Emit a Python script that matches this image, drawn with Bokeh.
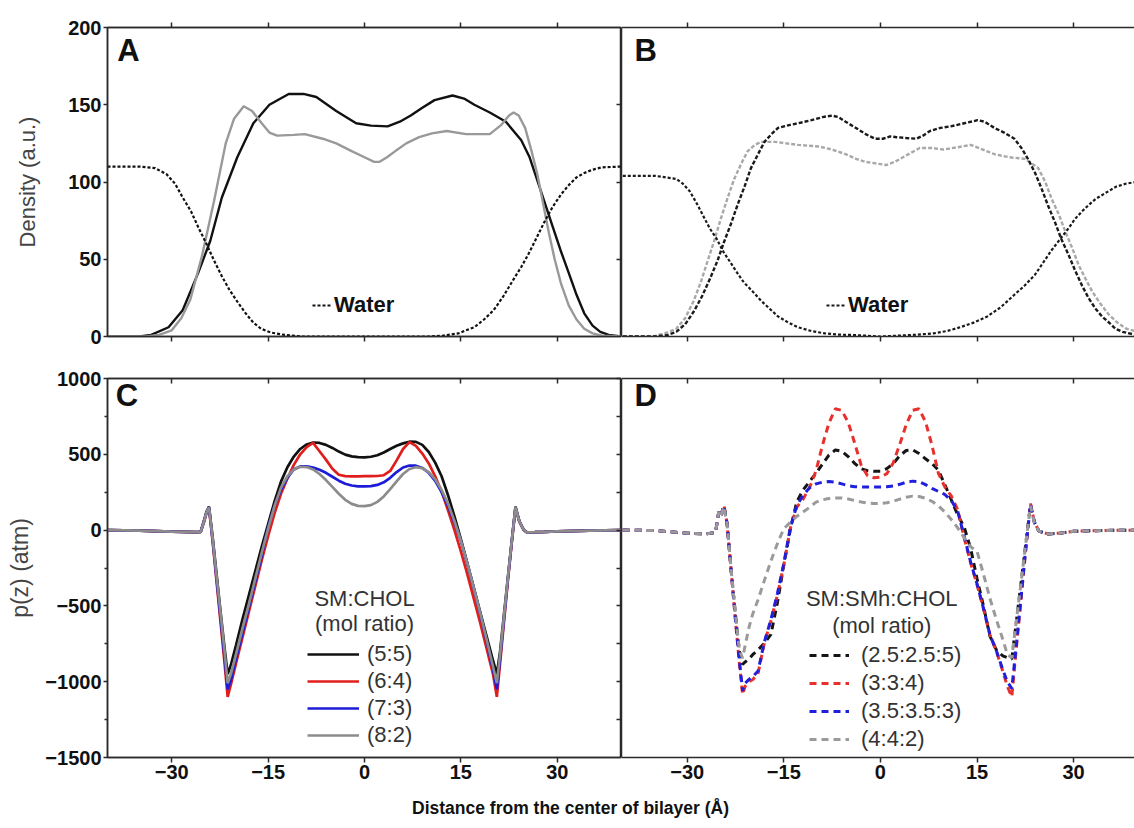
from bokeh.plotting import figure
from bokeh.layouts import gridplot, column
from bokeh.models import LinearAxis, FixedTicker, Label, Legend, LegendItem
from bokeh.embed import file_html
from bokeh.resources import INLINE

# ---------------- data ----------------
X_TICKS = [-30, -15, 0, 15, 30]
DENS_TICKS = [0, 50, 100, 150, 200]
PZ_TICKS = [-1500, -1000, -500, 0, 500, 1000]
PZ_MINOR = [-1250, -750, -250, 250, 750]

# Panel A (density, SM:CHOL)
a_lip1_x = [-40, -35, -33.2, -30.5, -28.3, -25.9, -24, -22.2, -19.8, -17.3, -14.8, -11.8, -9.5, -7.5, -4.4, -1.3, 1, 3.6, 5.5, 7.2, 9, 10.9, 13.7, 15.5, 17.1, 19.5, 22, 24.4, 25.7, 26.9, 28.1, 29.3, 30.5, 31.8, 33, 34.2, 35.5, 36.7, 38, 40]
a_lip1_y = [0, 0, 1, 6, 17, 41, 62, 90, 116, 138, 150, 157, 157, 155, 146, 138, 136.5, 136, 139, 143, 148, 153, 156, 154, 150, 145, 139, 127, 116, 101, 86, 71, 56, 41, 27, 15, 7, 3, 1, 0]
a_lip2_x = [-40, -34, -32, -30, -28.5, -27.1, -25.3, -23.4, -21.6, -20.3, -18.8, -17.5, -16, -14.8, -13.6, -11, -9.3, -6.5, -4.4, -2, 0, 1.5, 2.3, 3.5, 4.8, 6.5, 8.5, 10.5, 12.8, 15.8, 19.5, 21.3, 22.5, 23.2, 24, 25, 26, 26.9, 27.8, 28.7, 29.6, 30.6, 31.8, 33, 34.2, 35.5, 37, 40]
a_lip2_y = [0, 0, 1, 4, 12, 24, 52, 88, 125, 141, 149, 146, 138, 132, 130, 130.5, 131, 128, 125, 120, 116, 113, 113, 116, 120, 125, 129, 131.5, 133, 131, 131, 137, 143, 145, 143, 135, 120, 105, 86, 67, 50, 34, 20, 11, 5, 2, 0.5, 0]
a_wat_x = [-40, -35, -32.6, -30.8, -29.5, -28.3, -27, -25.9, -24.6, -23.4, -22.2, -21, -19.7, -18.5, -17.3, -16.1, -14.5, -12.4, -10, 10, 12.1, 14.6, 15.8, 17.1, 18.6, 20.1, 21.6, 23.2, 24.4, 25.6, 26.8, 28.1, 29.3, 30.6, 31.8, 33, 34.3, 35.5, 37, 40]
a_wat_y = [110, 110, 109, 105, 99, 90, 81, 71, 60, 49, 39, 30, 22, 15, 9, 5, 2.5, 1, 0, 0, 0.5, 2, 4, 6, 11, 17, 26, 37, 45, 54, 64, 75, 84, 92, 98, 103, 106, 108, 109.5, 110]

# Panel B (density, SM:SMh:CHOL)
b_lip1_x = [-40, -35, -33, -31.7, -30.3, -29, -27.7, -26.4, -25.3, -24.3, -23.2, -22.2, -21.1, -20.1, -19, -18, -16.9, -15.9, -14, -12.8, -10.7, -9, -7.5, -6.5, -5.4, -3.8, -2.3, -0.8, 0.4, 1.5, 2.5, 4, 5.6, 6.6, 7.7, 9.3, 10.9, 13, 15.1, 16.2, 17.7, 19.2, 20.8, 21.9, 22.9, 24, 25, 26, 27.1, 28.1, 29.2, 30.2, 31.3, 32.3, 33.4, 34.4, 35.5, 36.5, 37.6, 39.7, 40]
b_lip1_y = [0, 0, 1, 3, 8, 16, 26, 38, 49, 61, 73, 85, 97, 109, 118, 126, 131, 135, 137, 138, 140, 142, 143, 142, 139, 135, 131, 128, 128, 129.5, 129, 128.5, 128, 130, 133, 135, 136, 138, 140, 139, 135, 132, 128, 122, 115, 106, 96, 85, 74, 63, 53, 43, 33, 25, 18, 13, 9, 5, 3, 1, 1]
b_lip2_x = [-40, -35.3, -33.5, -31.7, -30.3, -29, -27.9, -26.9, -25.8, -24.8, -23.7, -22.7, -21.6, -20.6, -19.5, -18.5, -16.4, -14.6, -12.8, -9.6, -7.5, -5.4, -3.8, -2.3, 0.9, 2.2, 3.5, 4.8, 6.1, 8, 9.8, 12, 14, 15.9, 17.7, 20, 22.4, 23.5, 24.5, 25.6, 26.6, 27.7, 28.7, 29.8, 30.8, 31.9, 32.9, 34.2, 35.5, 36.8, 38.2, 40]
b_lip2_y = [0, 0, 2, 5, 12, 23, 35, 48, 62, 76, 90, 102, 112, 120, 124, 126, 126, 125, 124, 123, 121, 118, 115, 113, 111, 113, 116, 119, 122, 122, 121, 122.5, 124, 121, 118, 116, 115, 112, 109, 100, 89, 79, 68, 57, 46, 37, 29, 21, 14, 9, 5, 3]
b_wat_x = [-40, -35, -31.7, -30.7, -29.6, -28.5, -27.5, -26.5, -25.4, -24.4, -23.3, -22.2, -21.2, -19.8, -18.5, -17.2, -15.9, -14.3, -12.8, -10.7, -8.6, -6.5, -4.4, 0, 5.1, 8.2, 10.3, 12.4, 14.5, 16.6, 18.7, 20.8, 22.4, 24, 25.3, 26.6, 27.9, 29.2, 30.2, 31.3, 32.3, 33.4, 35, 36.6, 38.2, 39.7, 40]
b_wat_y = [104, 104, 102, 99, 94, 86, 78, 70, 63, 55, 48, 41, 35, 29, 23, 18, 13, 9, 6, 3.5, 2, 1.2, 1, 0, 1, 2, 3.5, 6, 9, 13, 19, 27, 33, 40, 48, 56, 63, 70, 76, 81, 85, 89, 93, 97, 99, 100, 100]

# Panel C (lateral pressure, SM:CHOL)
c_x = [-40, -35, -30, -28, -26.5, -25.5, -25, -24.6, -24.2, -23.6, -23, -22.4, -21.8, -21.3, -20.8, -20, -19, -18, -17, -16,
       -15, -14, -13, -12, -11, -10, -9, -8, -7, -6, -5, -4, -3, -2, -1, 0, 1, 2, 3, 4,
       5, 6, 7, 8, 9, 10, 11, 12, 13, 14, 15, 16, 17, 18, 19, 20, 20.6, 21.1, 21.7, 22.3,
       22.9, 23.5, 24.1, 24.8, 25.3, 26.5, 28, 30, 35, 40]
c_55 = [0, -3, -10, -12, -14, -12, 60, 120, 155, -60, -300, -540, -770, -950, -890, -760, -590, -430, -270, -110,
        40, 190, 320, 415, 485, 535, 565, 578, 575, 562, 542, 518, 498, 486, 481, 480, 484, 494, 512, 535,
        556, 572, 583, 582, 562, 515, 445, 355, 230, 90, -60, -220, -380, -540, -700, -860, -950, -800, -560, -320,
        -80, 155, 60, 0, -15, -14, -12, -8, -3, 0]
c_64 = [0, -3, -10, -12, -14, -12, 50, 110, 145, -90, -350, -610, -870, -1100, -1020, -880, -710, -540, -370, -200,
        -40, 110, 240, 340, 430, 500, 548, 575, 520, 465, 405, 365, 356, 355, 355, 356, 356, 357, 362, 390,
        460, 535, 580, 555, 505, 440, 355, 255, 130, 0, -140, -290, -450, -610, -780, -950, -1100, -880, -610, -340,
        -90, 145, 55, 0, -15, -14, -12, -8, -3, 0]
c_73 = [0, -3, -10, -12, -14, -12, 55, 115, 150, -80, -330, -580, -830, -1050, -990, -850, -680, -510, -340, -170,
        20, 160, 265, 345, 400, 420, 420, 412, 398, 378, 352, 326, 306, 294, 289, 288, 290, 298, 315, 345,
        383, 413, 426, 425, 410, 378, 325, 250, 160, 50, -70, -220, -380, -550, -730, -920, -1050, -850, -590, -330,
        -85, 150, 58, 0, -15, -14, -12, -8, -3, 0]
c_82 = [0, -3, -10, -12, -14, -12, 55, 115, 150, -70, -310, -550, -790, -1010, -950, -820, -650, -490, -320, -150,
        10, 160, 280, 355, 400, 418, 416, 400, 370, 330, 285, 240, 200, 173, 160, 158, 165, 186, 222, 270,
        322, 370, 403, 415, 408, 382, 335, 265, 175, 60, -70, -220, -380, -545, -720, -900, -1010, -820, -570, -320,
        -80, 150, 58, 0, -15, -14, -12, -8, -3, 0]
c_labels = ["(5:5)", "(6:4)", "(7:3)", "(8:2)"]

# Panel D (lateral pressure, SM:SMh:CHOL)
d_x = [-40, -35, -30, -27, -25.6, -25.1, -24.8, -24.3, -23.8, -23.2, -22.5, -21.9, -21.4, -21, -20.4, -19.8, -19, -18, -17, -16,
       -15, -14, -13, -12, -11, -10, -9, -8, -7, -6, -5, -4, -3, -2, -1, 0, 1, 2, 3, 4,
       5, 6, 7, 8, 9, 10, 11, 12, 13, 14, 15, 16, 17, 18, 19, 19.7, 20.4, 21.1, 21.8, 22.5,
       23.3, 23.9, 24.6, 26, 28, 30, 35, 40]
d_255 = [0, -3, -20, -25, -15, 120, 90, 160, 40, -250, -560, -800, -885, -870, -850, -820, -790, -745, -688, -480,
         -230, 0, 185, 265, 320, 375, 435, 495, 528, 520, 485, 440, 405, 392, 388, 389, 405, 440, 490, 525,
         530, 505, 470, 440, 395, 300, 200, 100, 20, -120, -320, -500, -700, -790, -830, -842, -850, -605, -360, -115,
         165, 50, -7, -25, -20, -8, -2, 0]
d_334 = [0, -3, -20, -25, -15, 120, 90, 165, 40, -260, -600, -880, -1085, -1030, -1000, -985, -945, -740, -600, -430,
         -230, 10, 150, 205, 280, 390, 560, 705, 800, 790, 710, 575, 430, 358, 345, 350, 372, 445, 565, 695,
         790, 800, 715, 560, 375, 285, 225, 135, -50, -215, -360, -520, -690, -800, -930, -1030, -1100, -780, -470, -160,
         175, 55, -7, -25, -20, -8, -2, 0]
d_353 = [0, -3, -20, -25, -15, 120, 90, 160, 40, -255, -590, -860, -1060, -1010, -985, -965, -930, -735, -590, -420,
         -220, 15, 160, 230, 280, 305, 316, 320, 317, 305, 293, 286, 284, 284, 284, 284, 286, 291, 302, 316,
         323, 320, 300, 275, 255, 235, 195, 125, -40, -210, -355, -515, -690, -795, -920, -1000, -1045, -760, -460, -150,
         170, 55, -7, -25, -20, -8, -2, 0]
d_442 = [0, -3, -20, -25, -15, 120, 90, 155, 40, -250, -560, -790, -845, -760, -640, -550, -460, -330, -204, -90,
         10, 50, 90, 120, 150, 185, 200, 208, 212, 212, 205, 195, 186, 179, 176, 176, 180, 190, 204, 217,
         224, 222, 210, 190, 160, 120, 70, 15, -50, -110, -140, -290, -450, -590, -720, -820, -842, -600, -360, -110,
         160, 50, -7, -25, -20, -8, -2, 0]
d_labels = ["(2.5:2.5:5)", "(3:3:4)", "(3.5:3.5:3)", "(4:4:2)"]

# ---------------- style ----------------
AXC = "#2a2a2a"
TICK_FONT = "Liberation Sans"
TEXT_FONT = "Liberation Sans"
LINE_COLORS = ["#111111", "#e01e1e", "#1c1cd8", "#8c8c8c"]
DASH_COLORS = ["#151515", "#e8302c", "#2020dc", "#9a9a9a"]

L_FRAME_W, R_FRAME_W = 514, 513
TOP_FRAME_H, BOT_FRAME_H = 309, 379


def make_fig(xr, yr, fw, fh, bl, br, bt, bb, outline=True):
    p = figure(x_range=xr, y_range=yr, frame_width=fw, frame_height=fh,
               min_border_left=bl, min_border_right=br, min_border_top=bt, min_border_bottom=bb,
               x_axis_type=None, y_axis_type=None, toolbar_location=None, output_backend="svg")
    p.outline_line_color = AXC if outline else None
    p.outline_line_width = 1.5
    p.background_fill_color = "white"
    p.border_fill_color = "white"
    return p


def add_axis(p, side, ticks, minor=(), t_in=0, t_out=0, m_in=0, m_out=0, labels=False):
    ax = LinearAxis(ticker=FixedTicker(ticks=list(ticks), minor_ticks=list(minor)))
    ax.axis_line_color = AXC
    ax.axis_line_width = 1.5
    ax.major_tick_line_color = AXC
    ax.major_tick_line_width = 1.5
    ax.major_tick_in = t_in
    ax.major_tick_out = t_out
    ax.minor_tick_line_color = AXC if minor else None
    ax.minor_tick_line_width = 1.5
    ax.minor_tick_in = m_in
    ax.minor_tick_out = m_out
    if labels:
        ax.major_label_text_font = TICK_FONT
        ax.major_label_text_font_style = "bold"
        ax.major_label_text_font_size = "20px"
        ax.major_label_text_color = "#111111"
        ax.major_label_standoff = 2
    else:
        ax.major_label_text_font_size = "0px"
        ax.major_label_text_color = None
        ax.major_label_standoff = 0
    p.add_layout(ax, side)
    return ax


def panel_letter(p, x, y, txt):
    p.add_layout(Label(x=x, y=y, text=txt, text_font=TEXT_FONT, text_font_style="bold",
                       text_font_size="31px", text_color="#111111",
                       text_align="left", text_baseline="alphabetic"))


def water_legend(p, r, xloc):
    leg = Legend(items=[LegendItem(label="Water", renderers=[r])], location=(xloc, 18),
                 border_line_color=None, background_fill_alpha=0, padding=0, margin=0,
                 glyph_width=20, glyph_height=26, label_height=26, label_standoff=2,
                 label_text_font=TEXT_FONT, label_text_font_style="bold",
                 label_text_font_size="22px", label_text_color="#111111")
    p.add_layout(leg)


# ---------------- Panel A ----------------
pa = make_fig((-40, 40), (0, 200), L_FRAME_W, TOP_FRAME_H, 107, 0, 27, 21)
ya = add_axis(pa, "left", DENS_TICKS, t_out=4, labels=True)
ya.axis_label = "Density (a.u.)"
ya.axis_label_text_font = TEXT_FONT
ya.axis_label_text_font_style = "normal"
ya.axis_label_text_font_size = "22px"
ya.axis_label_text_color = "#444444"
ya.axis_label_standoff = 25
add_axis(pa, "below", X_TICKS, t_out=5)
add_axis(pa, "above", X_TICKS, t_out=5)
add_axis(pa, "right", [50, 100, 150], t_in=5)
pa.line(a_lip1_x, a_lip1_y, line_color="#111111", line_width=2.4)
pa.line(a_lip2_x, a_lip2_y, line_color="#999999", line_width=2.4)
rwa = pa.line(a_wat_x, a_wat_y, line_color="#111111", line_width=2.2, line_dash="3 2")
water_legend(pa, rwa, 205)
panel_letter(pa, -38.5, 185, "A")

# ---------------- Panel B ----------------
XR_R = (-40.2, 39.45)
pb = make_fig(XR_R, (0, 200), R_FRAME_W, TOP_FRAME_H, 0, 0, 27, 21, outline=False)
add_axis(pb, "left", [])
add_axis(pb, "below", X_TICKS, t_out=5)
add_axis(pb, "above", X_TICKS, t_out=5)
pb.line(b_lip2_x, b_lip2_y, line_color="#a8a8a8", line_width=2.4, line_dash="4 2")
pb.line(b_lip1_x, b_lip1_y, line_color="#1a1a1a", line_width=2.4, line_dash="4 2")
rwb = pb.line(b_wat_x, b_wat_y, line_color="#1a1a1a", line_width=2.2, line_dash="3 2")
water_legend(pb, rwb, 205)
panel_letter(pb, -38.2, 185, "B")

# ---------------- Panel C ----------------
pc = make_fig((-40, 40), (-1500, 1000), L_FRAME_W, BOT_FRAME_H, 107, 0, 21, 33)
yc = add_axis(pc, "left", PZ_TICKS, minor=PZ_MINOR, t_out=4, m_out=3, labels=True)
yc.axis_label = "p(z) (atm)"
yc.axis_label_text_font = TEXT_FONT
yc.axis_label_text_font_style = "normal"
yc.axis_label_text_font_size = "23px"
yc.axis_label_text_color = "#444444"
yc.axis_label_standoff = 9
add_axis(pc, "below", X_TICKS, t_out=5, labels=True)
add_axis(pc, "above", X_TICKS, t_in=5)
add_axis(pc, "right", sorted(PZ_TICKS[1:] + PZ_MINOR), t_in=5)
c_series = [c_55, c_64, c_73, c_82]
c_items = []
for ys, col, lab in zip(c_series, LINE_COLORS, c_labels):
    r = pc.line(c_x, ys, line_color=col, line_width=2.7)
    c_items.append(LegendItem(label=lab, renderers=[r]))
pc.add_layout(Legend(items=c_items, location=(200, 9), border_line_color=None,
                     background_fill_alpha=0, padding=0, margin=0, spacing=1,
                     glyph_width=52, glyph_height=26, label_height=26, label_standoff=8,
                     label_text_font=TEXT_FONT, label_text_font_size="22px",
                     label_text_color="#333333"))
for yv, txt in [(-451, "SM:CHOL"), (-616, "(mol ratio)")]:
    pc.add_layout(Label(x=0, y=yv, text=txt, text_font=TEXT_FONT, text_font_size="22px",
                        text_color="#333333", text_align="center", text_baseline="middle"))
panel_letter(pc, -38.7, 885, "C")

# ---------------- Panel D ----------------
pd_ = make_fig(XR_R, (-1500, 1000), R_FRAME_W, BOT_FRAME_H, 0, 0, 21, 33, outline=False)
add_axis(pd_, "left", [])
add_axis(pd_, "below", X_TICKS, t_out=5, labels=True)
add_axis(pd_, "above", X_TICKS, t_in=5)
d_series = [d_255, d_334, d_353, d_442]
d_items = []
for ys, col, lab in zip(d_series, DASH_COLORS, d_labels):
    r = pd_.line(d_x, ys, line_color=col, line_width=3, line_dash="7 5")
    d_items.append(LegendItem(label=lab, renderers=[r]))
pd_.add_layout(Legend(items=d_items, location=(188, 4), border_line_color=None,
                      background_fill_alpha=0, padding=0, margin=0, spacing=0,
                      glyph_width=40, glyph_height=28, label_height=28, label_standoff=12,
                      label_text_font=TEXT_FONT, label_text_font_size="22px",
                      label_text_color="#333333"))
for yv, txt in [(-451, "SM:SMh:CHOL"), (-629, "(mol ratio)")]:
    pd_.add_layout(Label(x=0.2, y=yv, text=txt, text_font=TEXT_FONT, text_font_size="22px",
                         text_color="#333333", text_align="center", text_baseline="middle"))
panel_letter(pd_, -38.2, 888, "D")

# ---------------- shared x label ----------------
foot = figure(width=1134, height=36, x_range=(0, 1134), y_range=(0, 36), min_border=0,
              x_axis_type=None, y_axis_type=None, toolbar_location=None, output_backend="svg")
foot.outline_line_color = None
foot.add_layout(Label(x=570, y=19, text="Distance from the center of bilayer (Å)",
                      text_font=TEXT_FONT, text_font_style="bold", text_font_size="17.5px",
                      text_color="#111111", text_align="center", text_baseline="middle"))

grid = gridplot([[pa, pb], [pc, pd_]], toolbar_location=None)
layout = column(grid, foot)

open("out.html", "w").write(file_html(layout, INLINE))
